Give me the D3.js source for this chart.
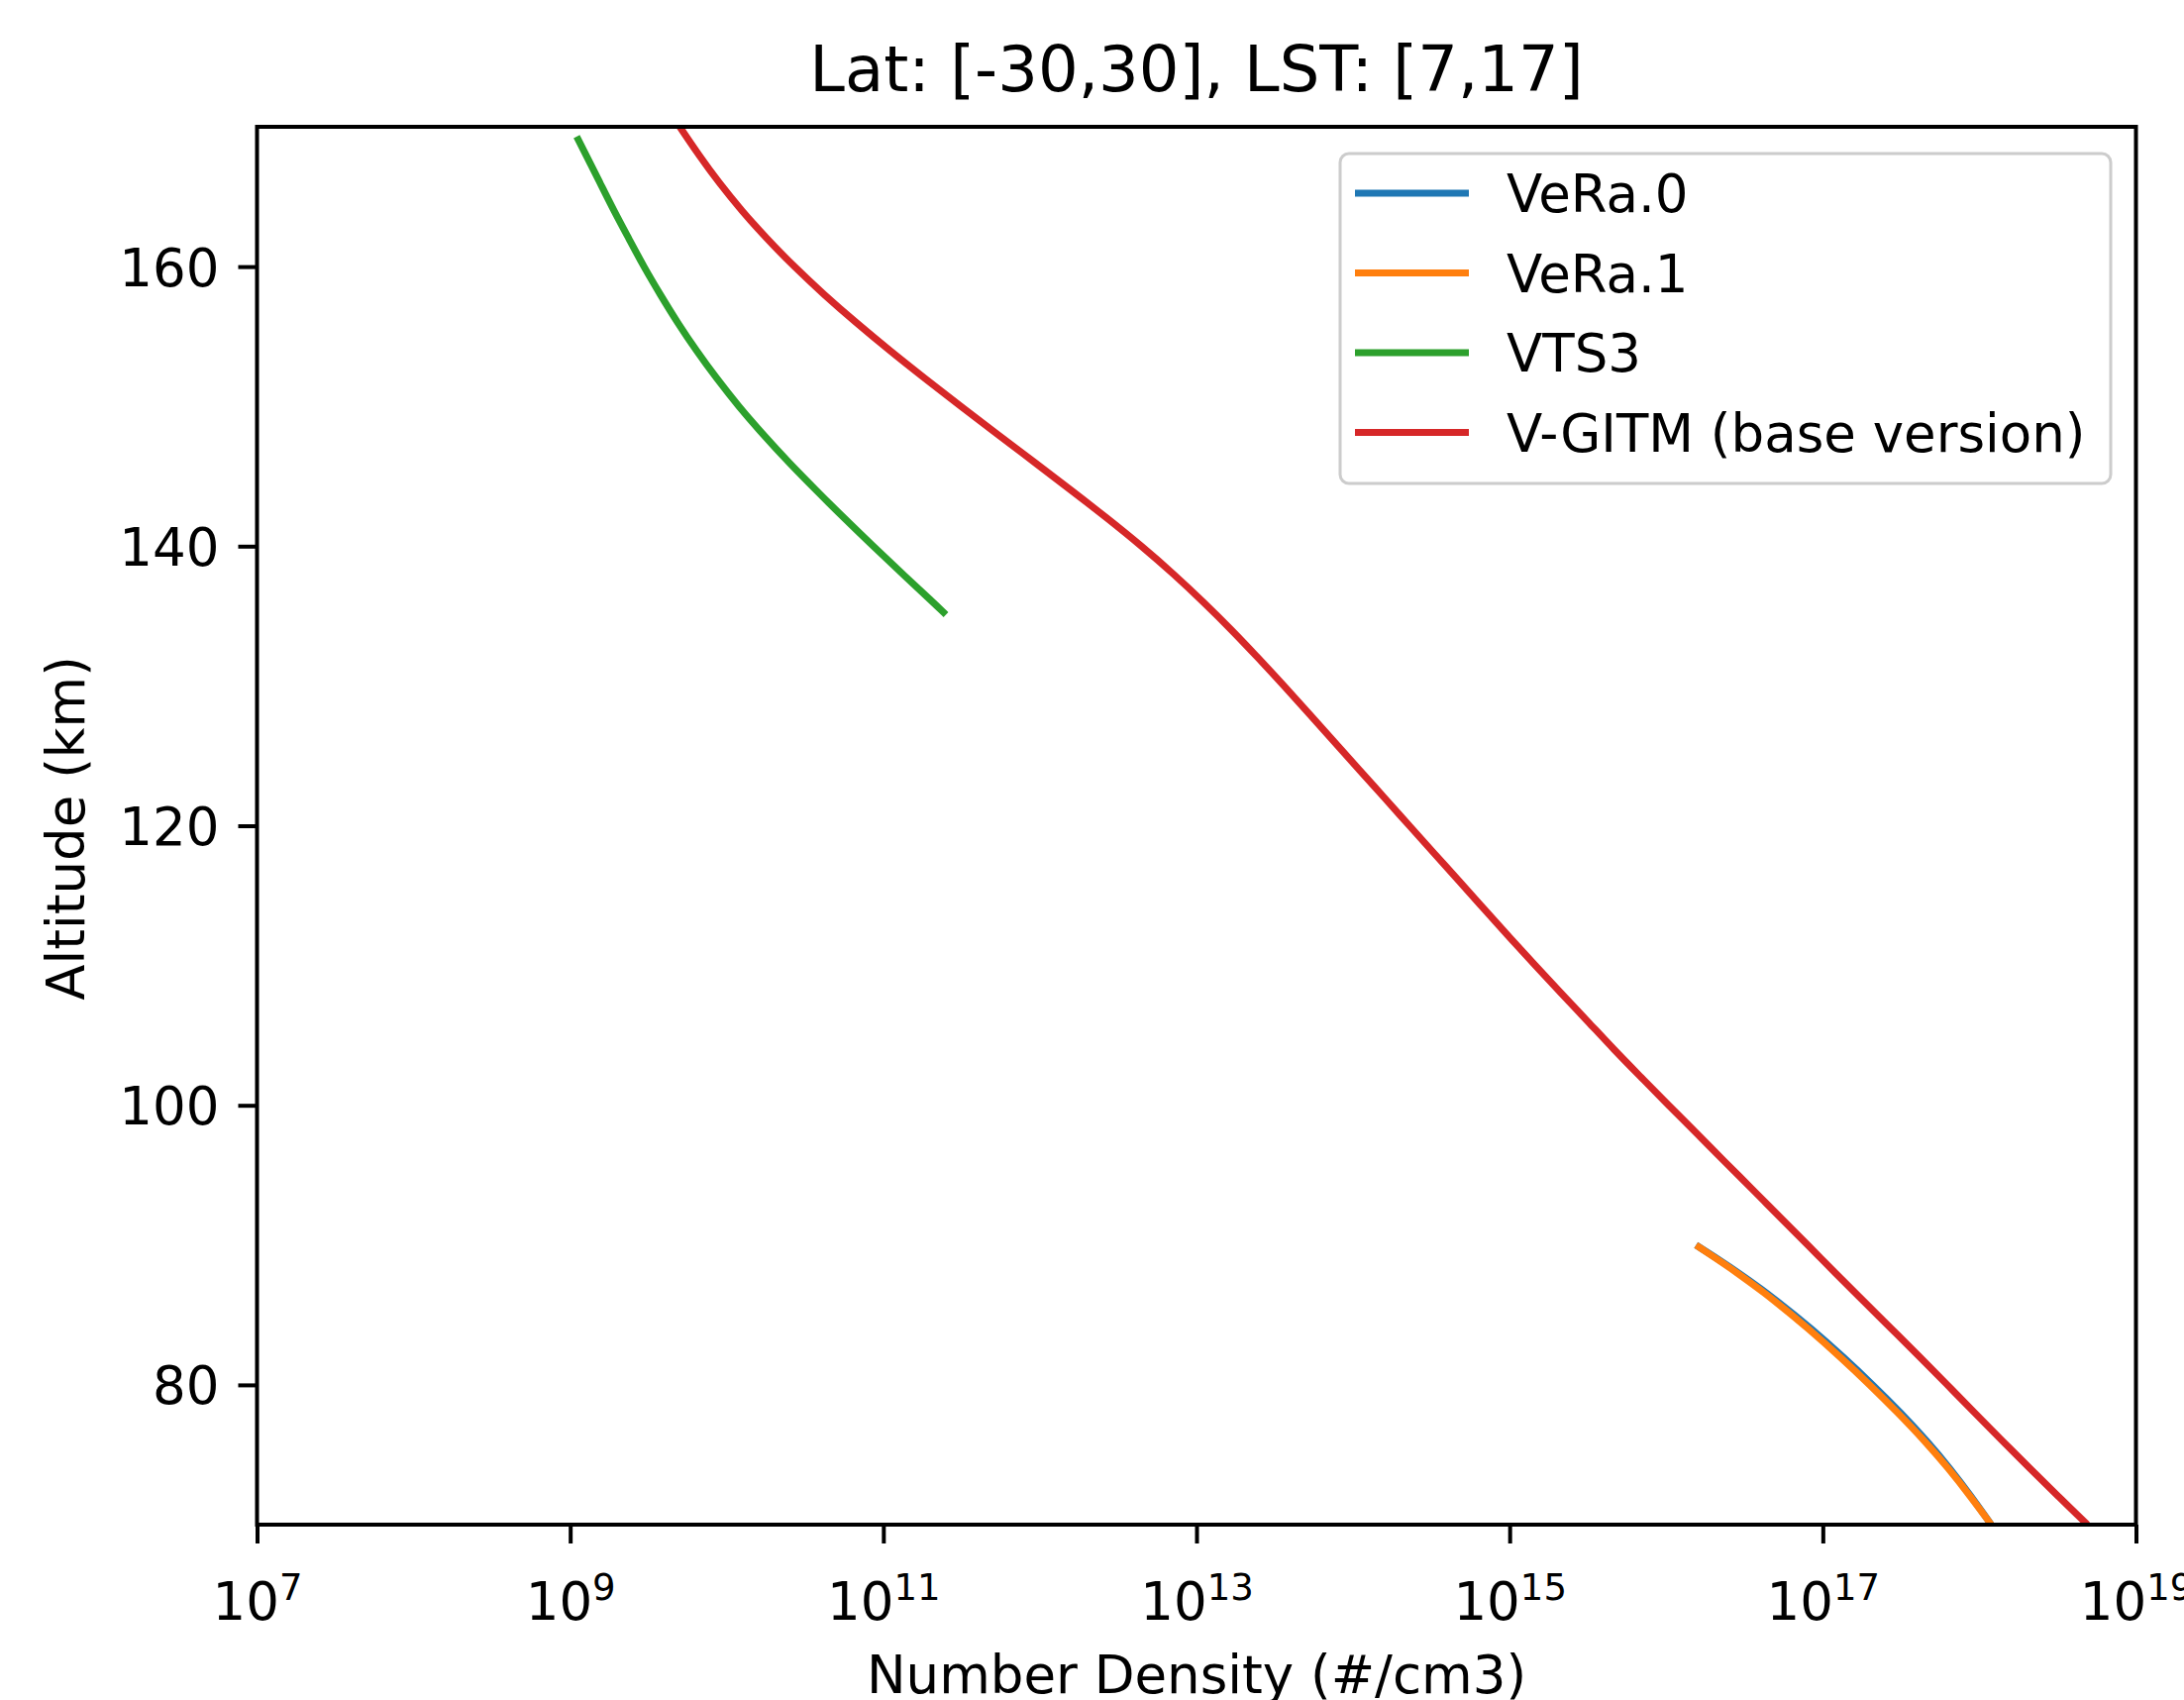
<!DOCTYPE html>
<html>
<head>
<meta charset="utf-8">
<script src="https://cdn.jsdelivr.net/npm/d3@7"></script>
<style>
    body { margin: 0; background: #ffffff; }
    svg { display: block; font-family: "DejaVu Sans", sans-serif; }
</style>
</head>
<body>
<svg id="profileChart"></svg>
<script>
// altitude (km) / number density (#/cm3)
const vgitmAlt = [170, 168, 166, 164, 162, 160, 158, 156, 154, 152, 150, 148, 146, 144, 142, 140, 138, 136, 134, 132, 130,
    128, 126, 124, 122, 120, 118, 116, 114, 112, 110, 108, 106, 104, 102, 100, 98, 96, 94, 92, 90, 88, 86, 84, 82, 80, 78, 76, 74, 72, 70];
const vgitmDens = [5.01e9, 6.61e9, 8.91e9, 1.245e10, 1.8e10, 2.69e10, 4.17e10, 6.68e10, 1.096e11, 1.84e11, 3.13e11, 5.37e11,
    9.23e11, 1.585e12, 2.69e12, 4.47e12, 7.16e12, 1.109e13, 1.68e13, 2.48e13, 3.63e13, 5.25e13, 7.59e13, 1.096e14, 1.585e14,
    2.29e14, 3.31e14, 4.79e14, 6.92e14, 1.0e15, 1.46e15, 2.14e15, 3.16e15, 4.62e15, 6.92e15, 1.035e16, 1.57e16, 2.34e16,
    3.55e16, 5.31e16, 8.04e16, 1.2e17, 1.82e17, 2.75e17, 4.17e17, 6.24e17, 9.33e17, 1.4e18, 2.11e18, 3.2e18, 4.9e18];

const vts3Alt = [169.3, 168, 166, 164, 162, 160, 158, 156, 154, 152, 150, 148, 146, 144, 142, 140, 138, 136, 135.1];
const vts3Dens = [1.1e9, 1.26e9, 1.55e9, 1.9e9, 2.37e9, 2.95e9, 3.76e9, 4.84e9, 6.38e9, 8.61e9, 1.19e10, 1.7e10, 2.48e10,
    3.72e10, 5.62e10, 8.61e10, 1.33e11, 2.07e11, 2.51e11];

const veraAlt = [90, 88, 86, 84, 82, 80, 78, 76, 74, 72, 70];
const vera0Dens = [1.55e16, 2.95e16, 5.13e16, 8.51e16, 1.35e17, 2.09e17, 3.16e17, 4.62e17, 6.53e17, 8.91e17, 1.19e18];
const vera1Dens = [1.55e16, 2.88e16, 4.96e16, 8.13e16, 1.29e17, 2.0e17, 3.02e17, 4.47e17, 6.38e17, 8.81e17, 1.19e18];

const seriesNames = ["VeRa.0", "VeRa.1", "VTS3", "V-GITM (base version)"];
const seriesColors = ["#1f77b4", "#ff7f0e", "#2ca02c", "#d62728"];

const xTicks = [1e7, 1e9, 1e11, 1e13, 1e15, 1e17, 1e19];
const yTicks = [80, 100, 120, 140, 160];

const chartTitle = "Lat: [-30,30], LST: [7,17]";
const xLabel = "Number Density (#/cm3)";
const yLabel = "Altitude (km)";

var w = 2205;
var h = 1716;
let margin = ({ top: 128, right: 48.5, bottom: 177, left: 259.5 });
var plotW = w - margin.left - margin.right;
var plotH = h - margin.top - margin.bottom;

var svg = d3.select("#profileChart")
    .attr("width", w)
    .attr("height", h);

var xScale = d3.scaleLog()
    .domain([1e7, 1e19])
    .range([0, plotW]);

var yScale = d3.scaleLinear()
    .domain([70, 170])
    .range([plotH, 0]);

const chart = svg.append("g")
    .attr("transform", `translate(${margin.left},${margin.top})`);

chart.append("clipPath")
    .attr("id", "plotClip")
    .append("rect")
    .attr("width", plotW)
    .attr("height", plotH);

let toPoints = (alts, dens) => alts.map((a, i) => ({ alt: a, n: dens[i] }));

let series = [
    toPoints(veraAlt, vera0Dens),
    toPoints(veraAlt, vera1Dens),
    toPoints(vts3Alt, vts3Dens),
    toPoints(vgitmAlt, vgitmDens)
];

// basis curve smooths out small reading errors
let line = d3.line()
    .x(d => xScale(d.n))
    .y(d => yScale(d.alt))
    .curve(d3.curveBasis);

chart.append("g")
    .attr("clip-path", "url(#plotClip)")
    .selectAll("path")
    .data(series)
    .join("path")
    .attr("d", d => line(d))
    .attr("fill", "none")
    .attr("stroke", (d, i) => seriesColors[i])
    .attr("stroke-width", 7)
    .attr("stroke-linejoin", "round");

// x axis with 10^n labels
let xAxis = g => g
    .attr("transform", `translate(0,${plotH})`)
    .call(d3.axisBottom(xScale).tickValues(xTicks).tickSize(19).tickFormat(""))
    .call(g => g.select(".domain").remove());

let gx = chart.append("g").call(xAxis);
gx.selectAll(".tick line").attr("stroke", "#000").attr("stroke-width", 4);
gx.selectAll(".tick text").remove();
gx.selectAll(".tick").each(function(d) {
    let t = d3.select(this).append("text")
        .attr("y", 96)
        .attr("fill", "#000")
        .attr("text-anchor", "middle")
        .style("font-family", "'DejaVu Sans', sans-serif")
        .style("font-size", "53px");
    t.append("tspan").text("10");
    t.append("tspan")
        .attr("dy", -20)
        .style("font-size", "37px")
        .text(Math.round(Math.log10(d)));
});

let yAxis = g => g
    .call(d3.axisLeft(yScale).tickValues(yTicks).tickSize(19).tickPadding(19))
    .call(g => g.select(".domain").remove());

let gy = chart.append("g").call(yAxis);
gy.selectAll(".tick line").attr("stroke", "#000").attr("stroke-width", 4);
gy.selectAll(".tick text")
    .attr("fill", "#000")
    .attr("dy", "0.36em")
    .style("font-family", "'DejaVu Sans', sans-serif")
    .style("font-size", "53px");

// frame
chart.append("rect")
    .attr("width", plotW)
    .attr("height", plotH)
    .attr("fill", "none")
    .attr("stroke", "#000")
    .attr("stroke-width", 4);

// legend
let legend = chart.append("g")
    .attr("transform", `translate(${1353 - margin.left},${155 - margin.top})`);

legend.append("rect")
    .attr("width", 778)
    .attr("height", 333)
    .attr("rx", 9)
    .attr("fill", "#ffffff")
    .attr("fill-opacity", 0.8)
    .attr("stroke", "#cccccc")
    .attr("stroke-width", 3);

let items = legend.selectAll("g.item")
    .data(seriesNames)
    .join("g")
    .attr("class", "item")
    .attr("transform", (d, i) => `translate(0,${40 + i * 80.5})`);

items.append("line")
    .attr("x1", 15)
    .attr("x2", 130)
    .attr("stroke", (d, i) => seriesColors[i])
    .attr("stroke-width", 7);

items.append("text")
    .attr("x", 168)
    .attr("y", 19)
    .attr("fill", "#000")
    .style("font-size", "53px")
    .text(d => d);

// title and axis labels
svg.append("text")
    .attr("x", margin.left + plotW / 2)
    .attr("y", 92)
    .attr("text-anchor", "middle")
    .style("font-size", "64px")
    .text(chartTitle);

svg.append("text")
    .attr("x", margin.left + plotW / 2)
    .attr("y", 1709)
    .attr("text-anchor", "middle")
    .style("font-size", "53px")
    .text(xLabel);

svg.append("text")
    .attr("transform", `translate(85,836) rotate(-90)`)
    .attr("text-anchor", "middle")
    .style("font-size", "53px")
    .text(yLabel);
</script>
</body>
</html>
